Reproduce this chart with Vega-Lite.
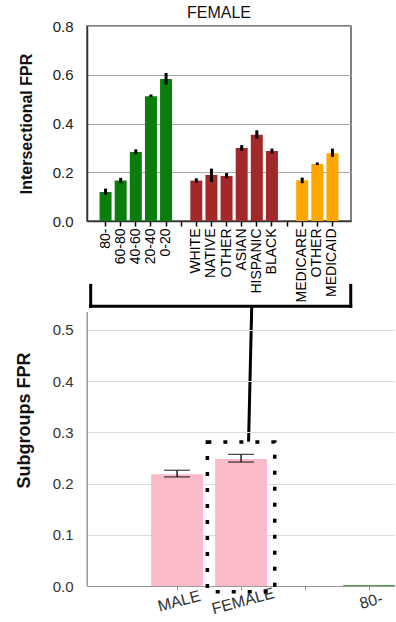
{
  "$schema": "https://vega.github.io/schema/vega-lite/v6.json",
  "padding": {"left": 15, "top": 4, "right": 0, "bottom": 0},
  "bounds": "flush",
  "spacing": 91,
  "resolve": {"scale": {"color": "independent"}},
  "config": {"font": "Liberation Sans", "background": "white"},
  "datasets": {
    "inter": [
      {"cat": "80-", "grp": "Age", "fpr": 0.119, "lo": 0.108, "hi": 0.133},
      {"cat": "60-80", "grp": "Age", "fpr": 0.166, "lo": 0.155, "hi": 0.177},
      {"cat": "40-60", "grp": "Age", "fpr": 0.283, "lo": 0.274, "hi": 0.294},
      {"cat": "20-40", "grp": "Age", "fpr": 0.512, "lo": 0.508, "hi": 0.519},
      {"cat": "0-20", "grp": "Age", "fpr": 0.583, "lo": 0.56, "hi": 0.607},
      {"cat": "WHITE", "grp": "Race", "fpr": 0.166, "lo": 0.157, "hi": 0.175},
      {"cat": "NATIVE", "grp": "Race", "fpr": 0.189, "lo": 0.16, "hi": 0.215},
      {"cat": "OTHER|race", "grp": "Race", "fpr": 0.185, "lo": 0.175, "hi": 0.197},
      {"cat": "ASIAN", "grp": "Race", "fpr": 0.3, "lo": 0.288, "hi": 0.311},
      {"cat": "HISPANIC", "grp": "Race", "fpr": 0.354, "lo": 0.338, "hi": 0.372},
      {"cat": "BLACK", "grp": "Race", "fpr": 0.287, "lo": 0.277, "hi": 0.297},
      {"cat": "MEDICARE", "grp": "Insurance", "fpr": 0.167, "lo": 0.155, "hi": 0.178},
      {"cat": "OTHER|ins", "grp": "Insurance", "fpr": 0.234, "lo": 0.23, "hi": 0.24},
      {"cat": "MEDICAID", "grp": "Insurance", "fpr": 0.278, "lo": 0.263, "hi": 0.297}
    ],
    "sub": [
      {"cat": "MALE", "grp": "Sex", "fpr": 0.218, "lo": 0.213, "hi": 0.226},
      {"cat": "FEMALE", "grp": "Sex", "fpr": 0.248, "lo": 0.242, "hi": 0.257},
      {"cat": "80-", "grp": "Age", "fpr": 0.0015, "lo": null, "hi": null}
    ]
  },
  "vconcat": [
    {
      "width": 264,
      "height": 195,
      "title": {"text": "FEMALE", "fontSize": 16, "fontWeight": "normal", "color": "#111", "offset": -2},
      "view": {"stroke": "#555", "strokeWidth": 1.5},
      "resolve": {"scale": {"x": "independent"}},
      "layer": [
        {
          "data": {"name": "inter"},
          "encoding": {
            "x": {
              "field": "cat", "type": "nominal",
              "scale": {"domain": ["80-", "60-80", "40-60", "20-40", "0-20", "gap1", "WHITE", "NATIVE", "OTHER|race", "ASIAN", "HISPANIC", "BLACK", "gap2", "MEDICARE", "OTHER|ins", "MEDICAID"], "paddingInner": 0.207, "paddingOuter": 0.83},
              "axis": {"title": null, "labelAngle": 270, "labelFontSize": 14, "labelColor": "#000", "labelExpr": "indexof(datum.value, 'gap') == 0 ? '' : split(datum.value, '|')[0]", "tickColor": "#000", "tickSize": 5, "tickWidth": 1.5, "domainColor": "#333", "domainWidth": 1.5, "labelPadding": 2, "grid": false}
            },
            "y": {
              "field": "fpr", "type": "quantitative",
              "scale": {"domain": [0, 0.8], "nice": false},
              "axis": {"title": "Intersectional FPR", "titleFontSize": 16, "titleFontWeight": "bold", "titleColor": "#111", "values": [0, 0.2, 0.4, 0.6, 0.8], "format": ".1f", "labelFontSize": 15, "labelColor": "#222", "labelPadding": 14, "ticks": false, "domainColor": "#333", "domainWidth": 1.5, "grid": true, "gridColor": "#aaa", "titlePadding": 18}
            }
          },
          "layer": [
            {
              "mark": {"type": "bar"},
              "encoding": {
                "color": {"field": "grp", "type": "nominal", "scale": {"domain": ["Age", "Race", "Insurance"], "range": ["#0a7d0a", "#a3282a", "#ffa500"]}, "legend": null}
              }
            },
            {
              "mark": {"type": "rule", "color": "#000", "strokeWidth": 3},
              "encoding": {
                "y": {"field": "lo", "type": "quantitative"},
                "y2": {"field": "hi"}
              }
            }
          ]
        },
        {
          "data": {"values": [{}]},
          "mark": {"type": "rule", "color": "#000", "strokeWidth": 3, "strokeCap": "square"},
          "encoding": {
            "x": {"datum": 0.014, "type": "quantitative", "scale": {"domain": [0, 1], "nice": false, "zero": false}, "axis": null},
            "x2": {"datum": 0.999},
            "y": {"datum": -0.35, "type": "quantitative", "scale": {"domain": [0, 0.8], "nice": false}},
            "y2": {"datum": -0.35}
          }
        },
        {
          "data": {"values": [{}]},
          "mark": {"type": "rule", "color": "#000", "strokeWidth": 3, "strokeCap": "square"},
          "encoding": {
            "x": {"datum": 0.014, "type": "quantitative", "scale": {"domain": [0, 1], "nice": false, "zero": false}, "axis": null},
            "y": {"datum": -0.264, "type": "quantitative", "scale": {"domain": [0, 0.8], "nice": false}},
            "y2": {"datum": -0.35}
          }
        },
        {
          "data": {"values": [{}]},
          "mark": {"type": "rule", "color": "#000", "strokeWidth": 3, "strokeCap": "square"},
          "encoding": {
            "x": {"datum": 0.999, "type": "quantitative", "scale": {"domain": [0, 1], "nice": false, "zero": false}, "axis": null},
            "y": {"datum": -0.264, "type": "quantitative", "scale": {"domain": [0, 0.8], "nice": false}},
            "y2": {"datum": -0.35}
          }
        },
        {
          "data": {"values": [{}]},
          "mark": {"type": "rule", "color": "#000", "strokeWidth": 3},
          "encoding": {
            "x": {"datum": 0.624, "type": "quantitative", "scale": {"domain": [0, 1], "nice": false, "zero": false}, "axis": null},
            "x2": {"datum": 0.612},
            "y": {"datum": -0.35, "type": "quantitative", "scale": {"domain": [0, 0.8], "nice": false}},
            "y2": {"datum": -0.905}
          }
        }
      ]
    },
    {
      "width": 308,
      "height": 274,
      "view": {"stroke": null},
      "data": {"name": "sub"},
      "encoding": {
        "x": {
          "field": "cat", "type": "nominal",
          "scale": {"domain": ["MALE", "FEMALE", "gap", "80-"], "paddingInner": 0.19, "paddingOuter": 0.501, "align": 1},
          "axis": {"title": null, "labelAngle": -15, "labelAlign": "center", "labelBaseline": "top", "labelFontSize": 16, "labelColor": "#333", "labelExpr": "datum.value == 'gap' ? '' : datum.value", "tickColor": "#999", "tickSize": 4, "domainColor": "#999", "labelPadding": 3, "grid": false}
        }
      },
      "layer": [
        {
          "mark": {"type": "bar"},
          "encoding": {
            "y": {
              "field": "fpr", "type": "quantitative",
              "scale": {"domain": [0, 0.535], "nice": false},
              "axis": {"title": "Subgroups FPR", "titleFontSize": 18, "titleFontWeight": "bold", "titleColor": "#111", "titleY": 108, "values": [0, 0.1, 0.2, 0.3, 0.4, 0.5], "format": ".1f", "labelFontSize": 15, "labelColor": "#333", "labelPadding": 14, "ticks": false, "domainColor": "#888", "grid": true, "gridColor": "#ddd", "titlePadding": 19}
            },
            "color": {"field": "grp", "type": "nominal", "scale": {"domain": ["Sex", "Age"], "range": ["#fbbac8", "#1a8a1a"]}, "legend": null}
          }
        },
        {
          "mark": {"type": "rule", "color": "#000", "strokeWidth": 1.3},
          "encoding": {
            "y": {"field": "lo", "type": "quantitative"},
            "y2": {"field": "hi"}
          }
        },
        {
          "mark": {"type": "tick", "color": "#000", "size": 26, "thickness": 1.3},
          "encoding": {"y": {"field": "lo", "type": "quantitative"}}
        },
        {
          "mark": {"type": "tick", "color": "#000", "size": 26, "thickness": 1.3},
          "encoding": {"y": {"field": "hi", "type": "quantitative"}}
        },
        {
          "data": {"values": [{}]},
          "mark": {"type": "rule", "color": "#aaa", "strokeWidth": 1.2},
          "encoding": {"y": {"datum": 0.535, "type": "quantitative"}}
        },
        {
          "data": {"values": [{}]},
          "mark": {"type": "bar", "fill": "transparent", "stroke": "#000", "strokeWidth": 3.5, "strokeDash": [4, 12], "width": {"band": 1.3}},
          "encoding": {
            "x": {"datum": "FEMALE", "type": "nominal"},
            "y": {"datum": 0.281, "type": "quantitative"},
            "y2": {"datum": -0.011}
          }
        }
      ]
    }
  ]
}
